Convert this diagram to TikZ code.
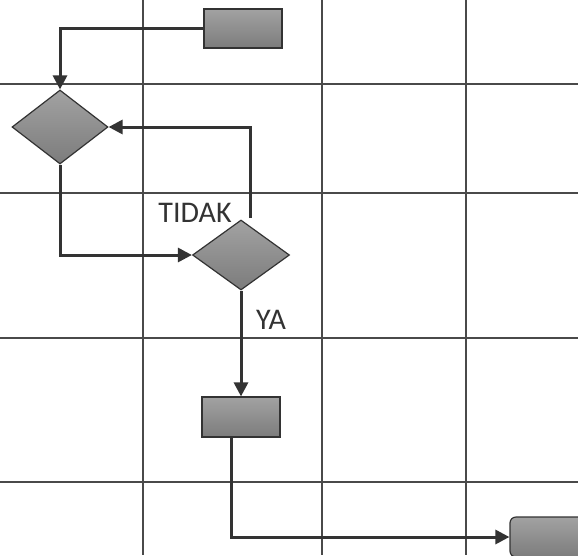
\documentclass[tikz,border=0pt]{standalone}
\usepackage{fontspec}
\setmainfont{Carlito}
\usepackage{tikz}
\usetikzlibrary{arrows.meta,shapes.geometric}
\definecolor{gridGray}{HTML}{4A4A4A}
\definecolor{lineDark}{HTML}{333333}
\definecolor{boxTop}{HTML}{A2A2A2}
\definecolor{boxBottom}{HTML}{7C7C7C}

\begin{document}
\begin{tikzpicture}[x=1pt,y=-1pt,
  box/.style={draw=lineDark,line width=1.2pt,top color=boxTop,bottom color=boxBottom,
    minimum width=78pt,minimum height=39pt,inner sep=0pt},
  decision/.style={diamond,draw=lineDark,line width=1.2pt,top color=boxTop,bottom color=boxBottom,
    inner sep=0pt},
  flow/.style={draw=lineDark,line width=3pt,-{Triangle[length=14pt,width=14pt]}},
  lbl/.style={font=\fontsize{30}{34}\selectfont,text=lineDark}]
  \clip (0,0) rectangle (578,555);
  \fill[white] (0,0) rectangle (578,555);

  % grid
  \foreach \gx in {143,322,466} \draw[gridGray,line width=1.2pt] (\gx,0) -- (\gx,555);
  \foreach \gy in {84,193,338,482} \draw[gridGray,line width=1.2pt] (0,\gy) -- (578,\gy);

  % shapes
  \node[box] (start) at (243,28.5) {};
  \node[decision,minimum width=96pt,minimum height=74pt] (check) at (60,127) {};
  \node[decision,minimum width=97pt,minimum height=70pt] (test) at (241,255) {};
  \node[box,minimum height=40pt] (proc) at (241,417) {};
  \node[box,minimum height=40pt,rounded corners=6pt] (finish) at (549,537) {};
  \coordinate (back) at (250,218);

  % labels
  \node[lbl] (tidak) at (195,213) {TIDAK};
  \node[lbl] (ya) at (271,320) {YA};

  % connectors
  \draw[flow] (start.west) -| (check.north);
  \draw[flow] (back) |- (check.east);
  \draw[flow] (check.south) |- (test.west);
  \draw[flow] (test.south) -- (proc.north);
  \draw[flow] ([xshift=-10pt]proc.south) |- (finish.west);
\end{tikzpicture}
\end{document}
